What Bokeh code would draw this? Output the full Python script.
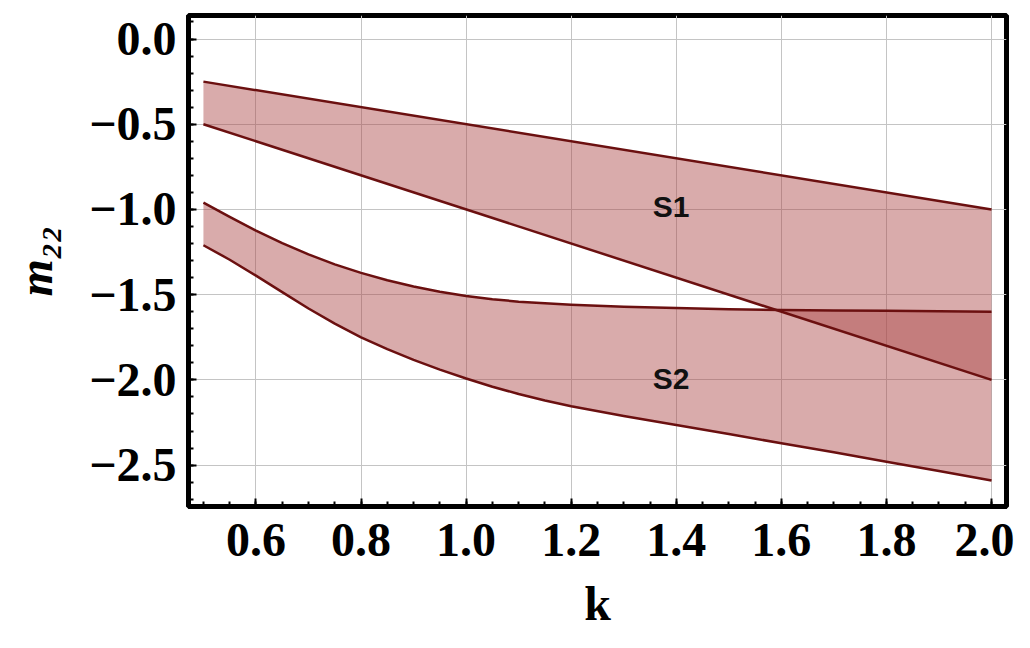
from bokeh.plotting import figure
from bokeh.models import Range1d, FixedTicker, CustomJSTickFormatter, ColumnDataSource
from bokeh.core.properties import value
from bokeh.embed import file_html
from bokeh.resources import INLINE

# ---- data ----
# region S1: bounded by two straight lines
k1 = [0.5, 2.0]
s1_upper = [-0.25, -1.00]
s1_lower = [-0.50, -2.00]

# region S2: bounded by two curves
k2 = [0.5, 0.55, 0.6, 0.65, 0.7, 0.75, 0.8, 0.85, 0.9, 0.95, 1.0, 1.05, 1.1, 1.15, 1.2,
      1.3, 1.4, 1.5, 1.6, 1.7, 1.8, 1.9, 2.0]
s2_upper = [-0.96, -1.044, -1.124, -1.198, -1.264, -1.322, -1.372, -1.415, -1.452, -1.483,
            -1.508, -1.527, -1.541, -1.551, -1.559,
            -1.571, -1.579, -1.585, -1.590, -1.593, -1.595, -1.598, -1.600]
s2_lower = [-1.21, -1.295, -1.388, -1.485, -1.581, -1.670, -1.750, -1.820, -1.883, -1.940,
            -1.992, -2.040, -2.083, -2.121, -2.155,
            -2.212, -2.265, -2.318, -2.372, -2.425, -2.480, -2.535, -2.590]

region_names = ["S1", "S2"]
region_k = [1.39, 1.39]
region_m = [-0.98, -1.99]

x_ticks = [0.6, 0.8, 1.0, 1.2, 1.4, 1.6, 1.8, 2.0]
y_ticks = [0.0, -0.5, -1.0, -1.5, -2.0, -2.5]
x_minor = [round(0.45 + 0.05 * i, 2) for i in range(0, 33)]
y_minor = [round(0.1 - 0.1 * i, 1) for i in range(0, 29)]

FILL = "#aa4545"
LINE = "#6b1010"

p = figure(width=1014, height=632, output_backend="svg", toolbar_location=None,
           x_range=Range1d(0.4716, 2.0285), y_range=Range1d(-2.743, 0.138),
           min_border_left=188, min_border_top=15, min_border_right=8, min_border_bottom=126)
p.frame_width = 818
p.frame_height = 491
p.background_fill_color = "white"
p.border_fill_color = "white"
p.outline_line_color = "black"
p.outline_line_width = 5

# filled regions
p.varea(x=k1, y1=s1_lower, y2=s1_upper, fill_color=FILL, fill_alpha=0.45)
p.varea(x=k2, y1=s2_lower, y2=s2_upper, fill_color=FILL, fill_alpha=0.45)

# boundary curves
for xs, ys in ((k1, s1_upper), (k1, s1_lower), (k2, s2_upper), (k2, s2_lower)):
    p.line(x=xs, y=ys, line_color=LINE, line_width=2.5, line_join="round")

src = ColumnDataSource(dict(x=region_k, y=region_m, t=region_names))
p.text(x="x", y="y", text="t", source=src, text_align="center", text_baseline="middle",
       text_font=value("Liberation Sans"), text_font_style="bold", text_font_size="30px",
       text_color="#111111")

# grid
for g in (p.xgrid, p.ygrid):
    g.grid_line_color = "#c4c4c4"
    g.grid_line_width = 1
p.xgrid.ticker = FixedTicker(ticks=x_ticks)
p.ygrid.ticker = FixedTicker(ticks=y_ticks)

fmt = "return tick.toFixed(1).replace('-', '\\u2212');"

xa = p.xaxis[0]
xa.ticker = FixedTicker(ticks=x_ticks, minor_ticks=x_minor)
xa.formatter = CustomJSTickFormatter(code=fmt)
xa.axis_label = "k"
ya = p.yaxis[0]
ya.ticker = FixedTicker(ticks=y_ticks, minor_ticks=y_minor)
ya.formatter = CustomJSTickFormatter(code=fmt)
ya.axis_label = "m₂₂"

for ax in (xa, ya):
    ax.axis_line_color = "black"
    ax.axis_line_width = 5
    ax.major_tick_in = 8
    ax.major_tick_out = 0
    ax.minor_tick_in = 5
    ax.minor_tick_out = 0
    ax.major_tick_line_width = 2
    ax.minor_tick_line_width = 2
    ax.major_tick_line_color = "black"
    ax.minor_tick_line_color = "black"
    ax.major_label_text_font = "Liberation Serif"
    ax.major_label_text_font_style = "bold"
    ax.major_label_text_color = "black"
    ax.axis_label_text_font = "Liberation Serif"
    ax.axis_label_text_color = "black"

xa.major_label_text_font_size = "48px"
xa.major_label_standoff = 17
xa.axis_label_text_font_size = "48px"
xa.axis_label_text_font_style = "bold"
xa.axis_label_standoff = 18

ya.major_label_text_font_size = "48px"
ya.major_label_standoff = 12
ya.axis_label_text_font_size = "48px"
ya.axis_label_text_font_style = "bold italic"
ya.axis_label_standoff = 24

open("out.html", "w").write(file_html(p, INLINE))
